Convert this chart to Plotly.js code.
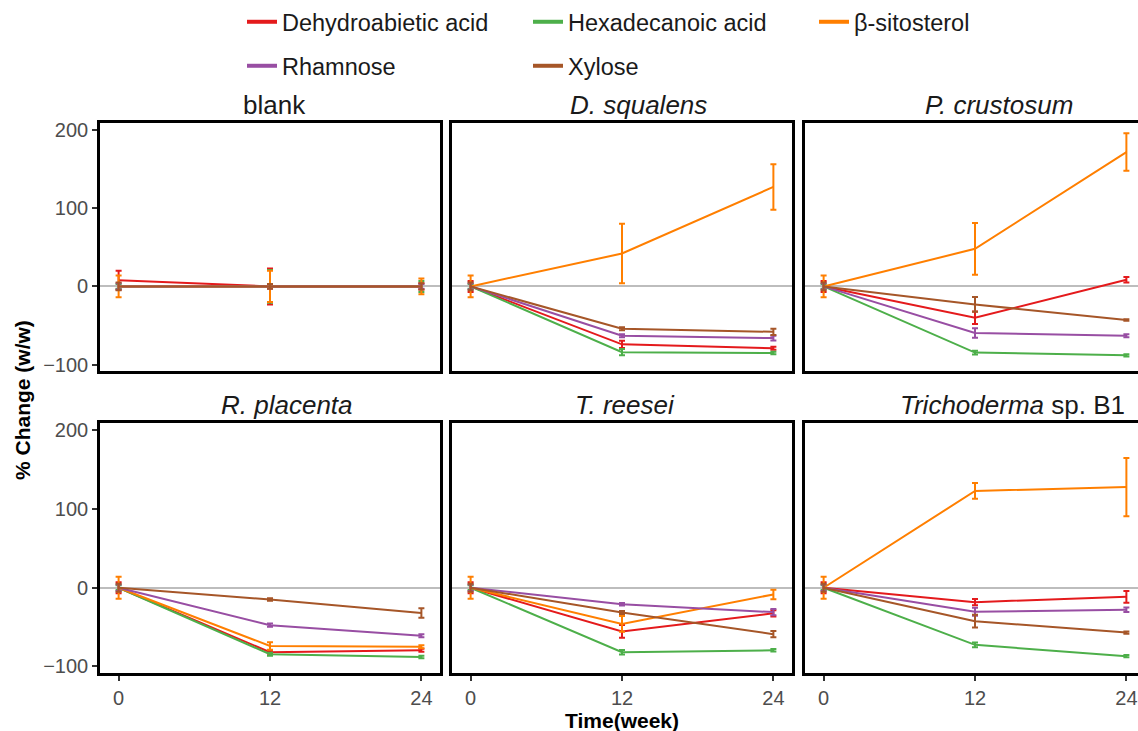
<!DOCTYPE html>
<html>
<head>
<meta charset="utf-8">
<script src="https://cdn.plot.ly/plotly-3.0.1.min.js"></script>
<style>html,body{margin:0;padding:0;background:#fff;}#chart{width:1138px;height:731px;}</style>
</head>
<body>
<div id="chart"></div>
<script>
// ---------------- DATA ----------------
const weeks = [0, 12, 24];
const xTickVals = [0, 12, 24];
const yTickVals = [-100, 0, 100, 200];
const seriesNames = ["Dehydroabietic acid", "Hexadecanoic acid", "β-sitosterol", "Rhamnose", "Xylose"];
const panelTitles = ["blank", "<i>D. squalens</i>", "<i>P. crustosum</i>", "<i>R. placenta</i>", "<i>T. reesei</i>", "<i>Trichoderma</i> sp. B1"];

// values per panel: [red, green, orange, purple, brown]
const blankVals      = [[8, 0, 0], [0, 0, 0], [0, 0, 0], [0, 0, 0], [0, 0, 0]];
const blankErr       = [[12, 23, 4], [3, 21, 7], [14, 20, 10], [4, 3, 3], [5, 3, 4]];
const squalensVals   = [[0, -74, -79], [0, -84, -85], [0, 42, 127], [0, -63, -66], [0, -54, -58]];
const squalensErr    = [[7, 4.5, 2], [3, 4, 1.5], [14, 38, 29], [4, 2, 3], [5, 2, 4]];
const crustosumVals  = [[0, -40, 8.5], [0, -84.5, -88], [0, 48, 171.5], [0, -59.5, -63], [0, -23, -43]];
const crustosumErr   = [[7, 8, 3.5], [3, 2.5, 1.5], [14, 33, 24], [4, 6, 2], [5, 9.5, 1]];
const placentaVals   = [[0, -82, -79.5], [0, -84.5, -88], [0, -74, -75], [0, -47.6, -61], [0, -15, -32]];
const placentaErr    = [[7, 2, 2], [3, 2, 1.5], [14, 4.7, 2], [4, 2, 2], [5, 1.5, 6]];
const reeseiVals     = [[0, -55.5, -32.5], [0, -82, -79.5], [0, -46, -8.5], [0, -21, -31], [0, -31.5, -59]];
const reeseiErr      = [[7, 8, 4], [3, 3, 1.5], [14, 10, 6], [4, 1.5, 4], [5, 2, 4]];
const trichoVals     = [[0, -18.3, -11.5], [0, -72.6, -87], [0, 123, 128], [0, -30.6, -28], [0, -42.5, -57]];
const trichoErr      = [[7, 4, 7.5], [3, 3, 1.5], [14, 10, 37], [4, 5, 3], [5, 8, 1.5]];

const panelVals = [blankVals, squalensVals, crustosumVals, placentaVals, reeseiVals, trichoVals];
const panelErr  = [blankErr, squalensErr, crustosumErr, placentaErr, reeseiErr, trichoErr];

// ---------------- STYLE ----------------
const colors = ["#E41A1C", "#4DAF4A", "#FF7F00", "#984EA3", "#A65628"];
const W = 1138, H = 731;
const colPx = [[100, 440], [452, 792], [805, 1138]];
const rowPx = [[122.7, 371], [423.3, 672.7]];
const titleShift = [7, 19, 27, 20, 6, 40];
const pxPerWeek = 340 / 26.95;
const xLeft = -1.475;
const yRange = [-108, 209];
const FONT = "Liberation Sans, Arial, Helvetica, sans-serif";
const TICK_FONT = {size: 20, color: "#4d4d4d", family: FONT};

const traces = [];
panelVals.forEach((vals, p) => {
  const sfx = p === 0 ? "" : String(p + 1);
  vals.forEach((ys, s) => {
    traces.push({
      type: "scatter", mode: "lines",
      x: weeks, y: ys,
      name: seriesNames[s],
      showlegend: false,
      legendgroup: seriesNames[s],
      line: {color: colors[s], width: 2},
      error_y: {type: "data", array: panelErr[p][s], visible: true, color: colors[s], thickness: 2, width: 3},
      xaxis: "x" + sfx, yaxis: "y" + sfx,
      hoverinfo: "x+y+name"
    });
  });
});
// legend keys (no data drawn)
seriesNames.forEach((nm, s) => {
  traces.push({
    type: "scatter", mode: "lines", x: [null], y: [null], name: nm,
    legend: s < 3 ? "legend" : "legend2", legendgroup: nm, showlegend: true,
    line: {color: colors[s], width: 4}, xaxis: "x", yaxis: "y", hoverinfo: "skip"
  });
});

const legendCommon = {orientation: "h", xanchor: "left", yanchor: "middle",
  font: {size: 23.5, color: "#1a1a1a", family: FONT}, entrywidth: 241, entrywidthmode: "pixels",
  bgcolor: "rgba(0,0,0,0)", traceorder: "normal"};

const layout = {
  width: W, height: H,
  margin: {l: 0, r: 0, t: 0, b: 0},
  paper_bgcolor: "#fff", plot_bgcolor: "#fff",
  font: {family: FONT, color: "#1a1a1a"},
  showlegend: true,
  legend: Object.assign({}, legendCommon, {x: 242 / W, y: 1 - 22 / H}),
  legend2: Object.assign({}, legendCommon, {x: 242 / W, y: 1 - 66 / H}),
  annotations: [],
  hovermode: "closest"
};

for (let p = 0; p < 6; p++) {
  const col = p % 3, row = Math.floor(p / 3);
  const sfx = p === 0 ? "" : String(p + 1);
  const c = colPx[col], r = rowPx[row];
  const xRight = xLeft + (c[1] - c[0]) / pxPerWeek;
  layout["xaxis" + sfx] = {
    domain: [c[0] / W, c[1] / W], range: [xLeft, xRight], anchor: "y" + sfx,
    tickvals: xTickVals, ticks: row === 1 ? "outside" : "", ticklen: 5, tickwidth: 1.5, tickcolor: "#333",
    showticklabels: row === 1, tickfont: TICK_FONT,
    showgrid: false, zeroline: false, showline: true, mirror: true, linecolor: "#000", linewidth: 2.6,
    fixedrange: true
  };
  layout["yaxis" + sfx] = {
    domain: [1 - r[1] / H, 1 - r[0] / H], range: yRange, anchor: "x" + sfx,
    tickvals: yTickVals, ticks: col === 0 ? "outside" : "", ticklen: 5, tickwidth: 1.5, tickcolor: "#333",
    showticklabels: col === 0, tickfont: TICK_FONT,
    showgrid: false, zeroline: true, zerolinecolor: "#bdbdbd", zerolinewidth: 2,
    showline: true, mirror: col !== 2, linecolor: "#000", linewidth: 2.6,
    fixedrange: true
  };
  // strip title centred on the full (uncropped) panel
  const fullCenter = (c[0] + c[0] + 340) / 2;
  layout.annotations.push({
    text: panelTitles[p], xref: "paper", yref: "y" + sfx + " domain",
    x: fullCenter / W, y: 1, xanchor: "center", yanchor: "bottom", yshift: 1,
    xshift: titleShift[p] - 3, showarrow: false,
    font: {size: 26, color: "#1a1a1a", family: FONT}
  });
}

layout.annotations.push({
  text: "% Change (w/w)", xref: "paper", yref: "paper", x: 22 / W, y: 1 - 400 / H,
  xanchor: "center", yanchor: "middle", textangle: -90, showarrow: false,
  font: {size: 21, color: "#000", family: FONT, weight: "bold"}
});
layout.annotations.push({
  text: "Time(week)", xref: "paper", yref: "paper", x: 622 / W, y: 1 - 720 / H,
  xanchor: "center", yanchor: "middle", showarrow: false,
  font: {size: 21, color: "#000", family: FONT, weight: "bold"}
});

Plotly.newPlot("chart", traces, layout, {displayModeBar: false});
</script>
</body>
</html>
